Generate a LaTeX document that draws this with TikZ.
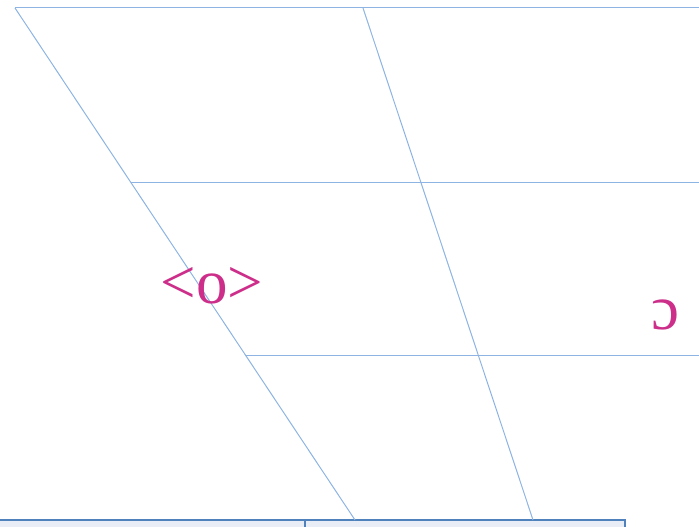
\documentclass[tikz,border=0pt]{standalone}
\usepackage{fontspec}
\setmainfont{Liberation Serif}
\usetikzlibrary{calc}
\definecolor{gridline}{RGB}{141,180,226}
\definecolor{boxline}{RGB}{79,129,189}
\definecolor{boxfill}{RGB}{233,238,246}
\definecolor{vowel}{RGB}{204,46,138}
\tikzset{
  gridl/.style={draw=gridline, line width=1pt},
  boxst/.style={draw=boxline, fill=boxfill, line width=2pt},
  vowellabel/.style={text=vowel, font=\fontsize{63}{66}\selectfont, inner sep=0pt}
}
\begin{document}
\begin{tikzpicture}[x=1pt,y=-1pt]
\useasboundingbox (0,0) rectangle (699,527);
% boxes at bottom
\draw[boxst] (-5,520) rectangle (305,540);
\draw[boxst] (305,520) rectangle (625,540);
% corners
\coordinate (tl) at (15,8);
\coordinate (tm) at (363,8);
\coordinate (tr) at (699,8);
\coordinate (bl) at (355,520);
\coordinate (bm) at (533,520);
\coordinate (m1l) at ($(tl)!0.33984!(bl)$);
\coordinate (m1r) at (699,182);
\coordinate (m2l) at ($(tl)!0.67773!(bl)$);
\coordinate (m2r) at (699,355);
\draw[gridl] (tl) -- (tr);
\draw[gridl] (tl) -- (bl);
\draw[gridl] (tm) -- (bm);
\draw[gridl] (m1l) -- (m1r);
\draw[gridl] (m2l) -- (m2r);
\node[vowellabel] (o) at (212,286) {<o>};
\node[vowellabel] (oo) at (665,315) {ɔ};
\end{tikzpicture}
\end{document}
